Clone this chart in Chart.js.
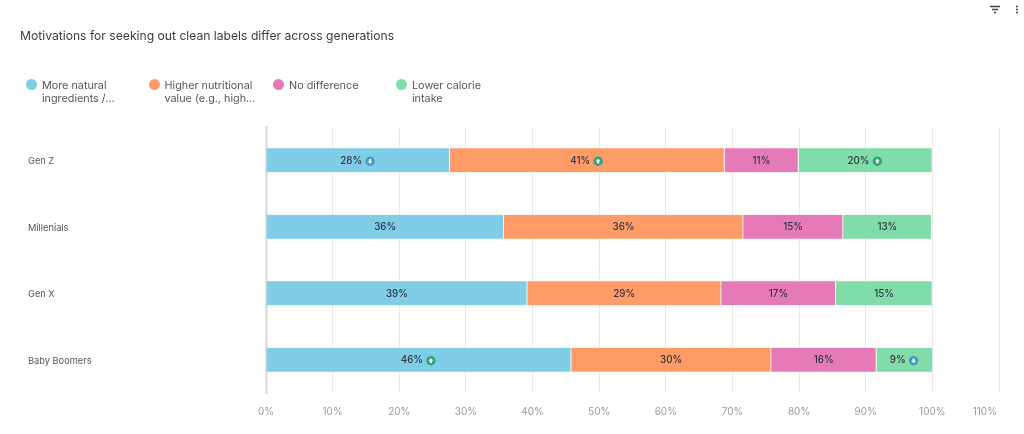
<!DOCTYPE html>
<html>
<head>
<meta charset="utf-8">
<script src="https://cdn.jsdelivr.net/npm/chart.js@4"></script>
<style>
  html, body { margin: 0; padding: 0; background: #fff; }
  body { width: 1024px; height: 434px; position: relative; overflow: hidden; font-family: Inter, sans-serif; }
  #c { position: absolute; left: 0; top: 0; }
  #title { position: absolute; left: 20px; top: 28px; font-size: 12.15px; line-height: 16px; color: #3d3d3d; white-space: nowrap; }
  .lg { position: absolute; top: 79px; font-size: 10.8px; line-height: 13px; color: #555; white-space: pre; padding-left: 16px; }
  .lg i { position: absolute; left: 0; top: 0; width: 11px; height: 11px; border-radius: 50%; }
  #tools { position: absolute; left: 990px; top: 5px; }
</style>
</head>
<body>
<canvas id="c" width="1024" height="434"></canvas>
<div id="title">Motivations for seeking out clean labels differ across generations</div>
<div id="legend"></div>
<svg id="tools" width="32" height="10">
  <path d="M0 1.5h10M2 4.5h6M4 7.5h2" stroke="#444" stroke-width="1.3"/>
  <circle cx="27" cy="1.5" r="1" fill="#444"/><circle cx="27" cy="4.5" r="1" fill="#444"/><circle cx="27" cy="7.5" r="1" fill="#444"/>
</svg>
<script>
const categories = ['Gen Z', 'Millenials', 'Gen X', 'Baby Boomers'];
const seriesNames = ['More natural ingredients /...', 'Higher nutritional value (e.g., high...', 'No difference', 'Lower calorie intake'];
const legendLines = ['More natural\ningredients /...', 'Higher nutritional\nvalue (e.g., high...', 'No difference', 'Lower calorie\nintake'];
const legendLeft = [26, 148.5, 273, 396];
const seriesColors = ['#7FCDE6', '#FF9B66', '#E67AB9', '#80DDAA'];

const naturalValues = [27.6, 35.7, 39.2, 45.8];
const nutritionValues = [41.2, 35.9, 29.1, 30.0];
const noDiffValues = [11.1, 15.0, 17.2, 15.8];
const calorieValues = [20.1, 13.3, 14.5, 8.5];

// significance badges per series, same order as categories
const naturalBadges = ['down', null, null, 'up'];
const nutritionBadges = ['up', null, null, null];
const noDiffBadges = [null, null, null, null];
const calorieBadges = ['up', null, null, 'down'];

const tickValues = [0, 10, 20, 30, 40, 50, 60, 70, 80, 90, 100, 110];

const allValues = [naturalValues, nutritionValues, noDiffValues, calorieValues];
const allBadges = [naturalBadges, nutritionBadges, noDiffBadges, calorieBadges];

legendLines.forEach(function (txt, i) {
  const d = document.createElement('div');
  d.className = 'lg';
  d.style.left = legendLeft[i] + 'px';
  d.textContent = txt;
  const dot = document.createElement('i');
  dot.style.background = seriesColors[i];
  d.appendChild(dot);
  document.getElementById('legend').appendChild(d);
});

function drawBadge(ctx, x, y, kind) {
  ctx.save();
  ctx.beginPath();
  ctx.arc(x, y, 4.7, 0, Math.PI * 2);
  ctx.fillStyle = kind === 'up' ? '#2CA77A' : '#4398C6';
  ctx.fill();
  ctx.translate(x, y);
  if (kind === 'down') ctx.scale(1, -1);
  ctx.fillStyle = '#fff';
  ctx.beginPath();
  ctx.moveTo(0, -2.6);
  ctx.lineTo(2.5, 0);
  ctx.lineTo(1, 0);
  ctx.lineTo(1, 2.3);
  ctx.lineTo(-1, 2.3);
  ctx.lineTo(-1, 0);
  ctx.lineTo(-2.5, 0);
  ctx.closePath();
  ctx.fill();
  ctx.restore();
}

const segmentLabels = {
  id: 'segmentLabels',
  afterDatasetsDraw(chart) {
    const ctx = chart.ctx;
    ctx.save();
    ctx.font = '500 9.75px Inter, sans-serif';
    ctx.textBaseline = 'middle';
    ctx.textAlign = 'left';
    ctx.fillStyle = '#2f3440';
    chart.data.datasets.forEach(function (ds, i) {
      chart.getDatasetMeta(i).data.forEach(function (bar, j) {
        const txt = Math.round(ds.data[j]) + '%';
        const kind = allBadges[i][j];
        const w = ctx.measureText(txt).width;
        const total = kind ? w + 14 : w;
        const cx = (bar.base + bar.x) / 2;
        const left = cx - total / 2;
        ctx.fillText(txt, left, bar.y + 0.5);
        if (kind) drawBadge(ctx, left + w + 8, bar.y + 1, kind);
      });
    });
    // last tick label is pulled back inside the plot edge
    const xs = chart.scales.x;
    ctx.font = '10px Inter, sans-serif';
    ctx.fillStyle = '#9a9a9a';
    ctx.textAlign = 'right';
    ctx.fillText('110%', xs.getPixelForValue(110) - 2, xs.top + 18.5);
    ctx.restore();
  }
};

new Chart(document.getElementById('c'), {
  type: 'bar',
  plugins: [segmentLabels],
  data: {
    labels: categories,
    datasets: seriesNames.map(function (name, i) {
      return {
        label: name,
        data: allValues[i],
        backgroundColor: seriesColors[i],
        borderColor: '#fff',
        borderWidth: { right: 1 },
        borderSkipped: false,
        barThickness: 24
      };
    })
  },
  options: {
    indexAxis: 'y',
    responsive: false,
    animation: false,
    devicePixelRatio: 1,
    layout: { padding: { top: 127, right: 25, left: 28, bottom: 0 } },
    plugins: { legend: { display: false }, title: { display: false }, tooltip: { enabled: false } },
    scales: {
      x: {
        stacked: true,
        min: 0,
        max: 110,
        afterBuildTicks(axis) { axis.ticks = tickValues.map(function (v) { return { value: v }; }); },
        afterFit(axis) { axis.height = 41; },
        border: { display: false },
        grid: { color: '#e9e9e9', lineWidth: 1, drawTicks: false },
        ticks: {
          autoSkip: false,
          maxRotation: 0,
          padding: 13,
          color: '#9a9a9a',
          font: { family: 'Inter', size: 10 },
          callback(v) { return v === 110 ? '' : v + '%'; }
        }
      },
      y: {
        stacked: true,
        afterFit(axis) { axis.width = 238; },
        border: { color: '#e2e2e2', width: 3 },
        grid: { display: false },
        ticks: {
          crossAlign: 'far',
          padding: 0,
          labelOffset: 1,
          color: '#555',
          font: { family: 'Inter', size: 9.25 }
        }
      }
    }
  }
});
</script>
</body>
</html>
